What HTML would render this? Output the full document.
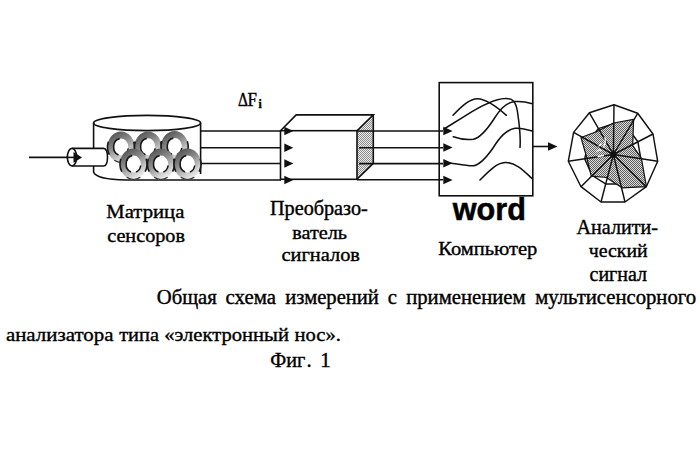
<!DOCTYPE html>
<html><head><meta charset="utf-8">
<style>
html,body{margin:0;padding:0;background:#fff;width:700px;height:450px;overflow:hidden}
svg{display:block}
text{font-family:"Liberation Serif",serif;fill:#000;stroke:#000;stroke-width:0.4px}
</style></head>
<body>
<svg width="700" height="450" viewBox="0 0 700 450">
<defs>
<linearGradient id="rg" x1="0.15" y1="0" x2="0.7" y2="1">
<stop offset="0" stop-color="#4a4a4a"/>
<stop offset="0.4" stop-color="#858585"/>
<stop offset="0.75" stop-color="#c8c8c8"/>
<stop offset="1" stop-color="#f6f6f6"/>
</linearGradient>
<pattern id="dots" width="2" height="2" patternUnits="userSpaceOnUse">
<rect width="2" height="2" fill="#dcdcdc"/>
<rect width="1" height="1" fill="#606060"/>
<rect x="1" y="1" width="1" height="1" fill="#606060"/>
</pattern>
<pattern id="dots2" width="2" height="2" patternUnits="userSpaceOnUse">
<rect width="2" height="2" fill="#ececec"/>
<rect width="1" height="1" fill="#8c8c8c"/>
<rect x="1" y="1" width="1" height="1" fill="#8c8c8c"/>
</pattern>
<g id="ring">
<path d="M-13.5,0 A13.5,15.4 0 1 0 13.5,0 A13.5,15.4 0 1 0 -13.5,0 Z M-7.3,0 A7.3,8.5 0 1 1 7.3,0 A7.3,8.5 0 1 1 -7.3,0 Z" fill="url(#rg)" fill-rule="evenodd"/>
<path d="M-12.7,-5.3 A13.5,15.4 0 0 0 -11.7,7.7 M12.7,-5.3 A13.5,15.4 0 0 1 11.7,7.7" fill="none" stroke="#1a1a1a" stroke-width="1.6"/>
<path d="M6.75,13.3 A13.5,15.4 0 0 1 -6.75,13.3" fill="none" stroke="#333" stroke-width="1.1"/>
<path d="M-1.3,-8.4 A7.3,8.5 0 0 0 -2.5,8" fill="none" stroke="#1a1a1a" stroke-width="1.6"/>
<path d="M7.2,1.5 A7.3,8.5 0 0 1 2.5,8" fill="none" stroke="#1a1a1a" stroke-width="1.6"/>
</g>
</defs>

<!-- cylinder -->
<g fill="none" stroke="#111" stroke-width="1.6">
<path d="M93.6,123 L93.6,172 Q96,179.5 126,180 L281,180"/>
<line x1="200.6" y1="123" x2="200.6" y2="174"/>
<ellipse cx="147.1" cy="123" rx="53.5" ry="7.6" fill="#fff"/>
</g>
<!-- rings -->
<use href="#ring" x="121" y="147"/>
<use href="#ring" x="148" y="146.8"/>
<use href="#ring" x="174.6" y="146.5"/>
<use href="#ring" x="133.5" y="164"/>
<use href="#ring" x="160.9" y="164"/>
<use href="#ring" x="187.5" y="164"/>

<!-- input line & tube -->
<g fill="none" stroke="#111" stroke-width="1.6" stroke-linejoin="round">
<line x1="29" y1="157.4" x2="68" y2="157.4"/>
<path d="M72,148.4 L103.5,148.4 Q107.5,148.6 107.5,157.2 Q107.5,166 103.5,166 L72,166" fill="#fff"/>
<ellipse cx="72" cy="157.2" rx="4.6" ry="8.8" fill="#fff"/>
<line x1="66" y1="157.4" x2="76" y2="157.4"/>
</g>
<path d="M73.5,152 L82,157.4 L73.5,162.8 Z" fill="#111"/>

<!-- lines to converter -->
<g stroke="#111" stroke-width="1.6">
<line x1="200.6" y1="131" x2="281" y2="131"/>
<line x1="200.6" y1="147.7" x2="281" y2="147.7"/>
<line x1="200.6" y1="163.5" x2="281" y2="163.5"/>
</g>

<!-- converter box -->
<path d="M357,130.7 L373.3,114.9 L373.3,163.3 L357,179.3 Z" fill="url(#dots2)"/>
<g fill="none" stroke="#111" stroke-width="1.6" stroke-linejoin="miter">
<rect x="280.5" y="130.7" width="76.5" height="48.6"/>
<path d="M280.5,130.7 L296.2,114.9 L373.3,114.9 L357,130.7 M373.3,114.9 L373.3,163.3 L357,179.3"/>
</g>
<g fill="#111">
<path d="M284.3,126.8 L293.3,131 L284.3,135.2 Z"/>
<path d="M284.3,143.5 L293.3,147.7 L284.3,151.9 Z"/>
<path d="M284.3,159.3 L293.3,163.5 L284.3,167.7 Z"/>
<path d="M284.3,175.8 L293.3,180 L284.3,184.2 Z"/>
</g>

<!-- lines to computer -->
<g stroke="#111" stroke-width="1.6">
<line x1="357" y1="131" x2="443" y2="131"/>
<line x1="359" y1="147.7" x2="443" y2="147.7"/>
<line x1="359" y1="163.6" x2="443" y2="163.6"/>
<line x1="357" y1="179.8" x2="443" y2="179.8"/>
</g>

<!-- computer box -->
<rect x="439.2" y="82.6" width="93.6" height="113.2" fill="none" stroke="#111" stroke-width="1.6"/>
<g fill="#111">
<path d="M443.3,126.7 L452.6,131 L443.3,135.3 Z"/>
<path d="M443.3,143.2 L452.6,147.5 L443.3,151.8 Z"/>
<path d="M443.3,159 L452.6,163.3 L443.3,167.6 Z"/>
<path d="M443.3,175.7 L452.6,180 L443.3,184.3 Z"/>
</g>
<g fill="none" stroke="#111" stroke-width="1.55" stroke-linecap="round">
<path d="M453,115.3 C462,106 470,98.5 477.5,98.7 C486,99 496,106 506.4,115.3"/>
<path d="M444,129 C452,124 460,119 466,115.3 C476,109 492,99 505,98.5 C513,98 516,102 517.5,112 C519,122 521,135 520,147.5"/>
<path d="M453.3,136.7 C460,139 468,140 473.3,139.2 C480,138 486,131 493.3,120 C499,111 505,102.5 515,101.6 C522,101 528,102.5 532.4,103.8"/>
<path d="M446.7,162.5 C458,164 466,166 473.3,165.8 C480,165 486,158 493,148 C500,137 506,130 515,128.3 C522,127.5 528,130 532.4,131"/>
<path d="M480,180 C488,172 496,163 505,162.5 C516,162 525,172 532,178.5"/>
</g>
<!-- output arrow -->
<line x1="533" y1="146.5" x2="550" y2="146.5" stroke="#111" stroke-width="1.6"/>
<path d="M548,142.3 L557.5,146.5 L548,150.7 Z" fill="#111"/>

<!-- radar -->
<g fill="none" stroke="#111" stroke-width="1.45" stroke-linejoin="round">
<polygon points="613.7,123.6 628.4,129.0 637.9,141.8 640.8,158.7 633.7,174.5 620.5,183.9 605.6,183.9 592.2,175.5 584.7,158.9 588.6,140.8 598.4,128.6"/>
</g>
<polygon points="613.6,123 633.6,119.3 632.7,145.6 641.4,158.3 646.4,186.7 622,187.8 606.4,177.5 591.3,176.1 586.8,157.8 581,137.5 597,131.5" fill="url(#dots)" stroke="#111" stroke-width="1.2" stroke-linejoin="round"/>
<g fill="none" stroke="#111" stroke-width="1.45" stroke-linejoin="round">
<polygon points="614.0,104.7 637.7,113.3 653.0,134.0 657.7,161.3 646.3,186.7 625.0,202.0 601.0,202.0 581.0,186.7 568.3,161.3 573.6,132.4 589.4,112.8"/>
<path d="M613.4,154.5 L614.0,104.7 M613.4,154.5 L637.7,113.3 M613.4,154.5 L653.0,134.0 M613.4,154.5 L657.7,161.3 M613.4,154.5 L646.3,186.7 M613.4,154.5 L625.0,202.0 M613.4,154.5 L601.0,202.0 M613.4,154.5 L581.0,186.7 M613.4,154.5 L568.3,161.3 M613.4,154.5 L573.6,132.4 M613.4,154.5 L589.4,112.8"/>
</g>
<circle cx="613.4" cy="154.5" r="3.2" fill="#111"/>
<g fill="none" stroke="#fff" stroke-width="1.3" stroke-linecap="round">
<path d="M596.5,151.5 Q599,149 601.5,150.5 M598,156.5 L603.5,155.5 M603.5,147 Q606,143 605,138 M599,146 L601,144"/>
</g>

<!-- labels -->
<text transform="translate(238,105.5) scale(0.85,1)" font-size="18.2">Δ</text>
<text transform="translate(247.6,105.5) scale(0.93,1)" font-size="18.2">F</text>
<text x="258.6" y="108" font-size="11.5" font-weight="bold">i</text>

<text transform="translate(106.3,217.6) scale(1.015,0.95)" font-size="20.4">Матрица</text>
<text transform="translate(107.2,241.5) scale(1.01,0.93)" font-size="20">сенсоров</text>

<text transform="translate(270,214.6)" font-size="20.2">Преобразо-</text>
<text transform="translate(292.3,238.7) scale(1,0.94)" font-size="20.2">ватель</text>
<text transform="translate(281.5,261.3) scale(1.02,0.96)" font-size="20">сигналов</text>

<text x="452.8" y="219.8" font-size="30.6" font-weight="bold" style="font-family:'Liberation Sans',sans-serif;stroke-width:0.5px">word</text>
<text transform="translate(438.3,255.4) scale(1,0.94)" font-size="20.5">Компьютер</text>

<text transform="translate(576.6,234.1)" font-size="20.1">Аналити-</text>
<text transform="translate(588.8,257.2)" font-size="19.8">ческий</text>
<text transform="translate(589.5,280.6)" font-size="20">сигнал</text>

<text transform="translate(156.7,304.2)" font-size="20.7">Общая</text>
<text transform="translate(225.6,304.2)" font-size="20.8">схема</text>
<text transform="translate(285.3,304.2)" font-size="20.6">измерений</text>
<text transform="translate(387.8,304.2)" font-size="20.7">с</text>
<text transform="translate(406.2,304.2)" font-size="20.7">применением</text>
<text transform="translate(535.2,304.2)" font-size="20.7">мультисенсорного</text>

<text transform="translate(5.9,340.6) scale(1,0.95)" font-size="20.9">анализатора</text>
<text transform="translate(119.2,340.6) scale(1,0.95)" font-size="20.4">типа</text>
<text transform="translate(164.3,340.6) scale(1,0.95)" font-size="20.6">«электронный</text>
<text transform="translate(294.5,340.6) scale(1,0.95)" font-size="20.6">нос».</text>
<text transform="translate(270.3,366.9) scale(0.97,0.98)" font-size="20.8">Фиг</text>
<text x="306.5" y="366.9" font-size="20.8">.</text>
<text x="320.3" y="366.9" font-size="20.8">1</text>
<rect x="696.3" y="285" width="5" height="30" fill="#fff"/>
</svg>
</body></html>
